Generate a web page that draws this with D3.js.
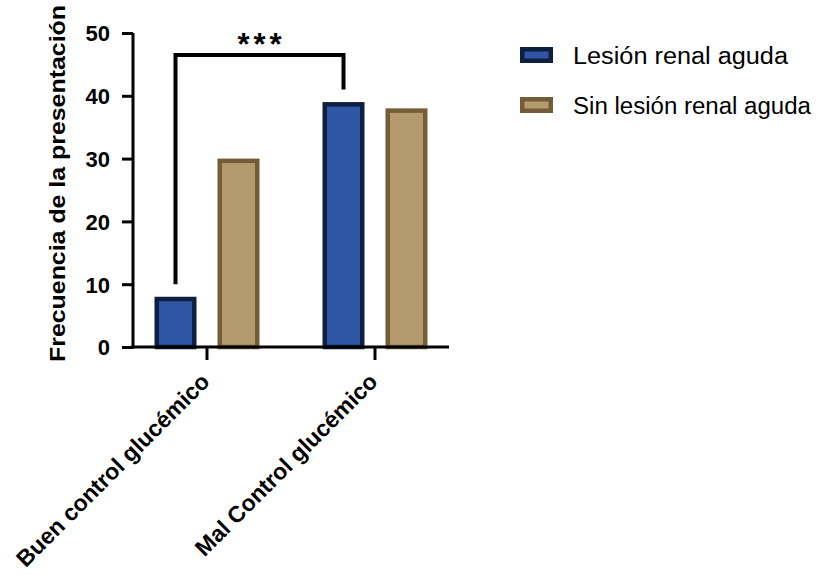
<!DOCTYPE html>
<html>
<head>
<meta charset="utf-8">
<script src="https://cdn.jsdelivr.net/npm/d3@7"></script>
<style>
  html, body { margin: 0; padding: 0; background: #fff; }
  svg { display: block; font-family: "Liberation Sans", Arial, sans-serif; }
</style>
</head>
<body>
<div id="chart"></div>
<script>
// Data
const categories = ['Buen control glucémico', 'Mal Control glucémico'];
const seriesNames = ['Lesión renal aguda', 'Sin lesión renal aguda'];
const lesionValues = [8, 39];
const sinLesionValues = [30, 38];
const yTicks = [0, 10, 20, 30, 40, 50];
const yLabel = 'Frecuencia de la presentación';
const significance = '***';
// bracket: from group 0 to group 1 of the first series, top level in data units
const bracketTop = 46.5;
const bracketGap = 2;

const width = 829, height = 575;
const plotLeft = 133, plotRight = 449, plotTop = 33, plotBottom = 347;
const fills = ['#2f56a4', '#b49b6f'];
const strokes = ['#0e1f40', '#745c36'];
const sw = 4.5;

const svg = d3.select('#chart').append('svg')
  .attr('width', width)
  .attr('height', height);

const y = d3.scaleLinear().domain([0, 50]).range([plotBottom, plotTop]);
const x = d3.scaleBand().domain(categories).range([plotLeft - 10, plotRight + 10]);
const xSub = d3.scaleBand().domain(seriesNames).range([-52.5, 52.5]).paddingInner(1 / 3);

const rows = categories.map((c, i) => ({
  cat: c,
  vals: [
    { s: seriesNames[0], v: lesionValues[i], k: 0 },
    { s: seriesNames[1], v: sinLesionValues[i], k: 1 }
  ]
}));

// Bars (border drawn inside the bar)
const groups = svg.append('g').selectAll('g')
  .data(rows)
  .join('g')
  .attr('transform', d => `translate(${x(d.cat) + x.bandwidth() / 2},0)`);

groups.selectAll('rect')
  .data(d => d.vals)
  .join('rect')
  .attr('x', d => xSub(d.s) + sw / 2)
  .attr('y', d => y(d.v) + sw / 2)
  .attr('width', xSub.bandwidth() - sw)
  .attr('height', d => y(0) - y(d.v) - sw / 2)
  .attr('fill', d => fills[d.k])
  .attr('stroke', d => strokes[d.k])
  .attr('stroke-width', sw);

// Y axis
const yAxis = svg.append('g')
  .attr('transform', `translate(${plotLeft},0)`)
  .call(d3.axisLeft(y).tickValues(yTicks).tickSize(11).tickSizeOuter(0).tickPadding(12));
yAxis.select('.domain').attr('stroke', '#000').attr('stroke-width', 3)
  .attr('d', `M0,${plotTop}V${plotBottom + 1.5}`);
yAxis.selectAll('.tick line').attr('stroke', '#000').attr('stroke-width', 3);
yAxis.selectAll('.tick text')
  .attr('font-size', 22)
  .attr('font-weight', 'bold')
  .attr('fill', '#000')
  .attr('dy', '0.36em');

// X axis
const xAxis = svg.append('g')
  .attr('transform', `translate(0,${plotBottom})`)
  .call(d3.axisBottom(x).tickSize(13).tickSizeOuter(0));
xAxis.select('.domain').attr('stroke', '#000').attr('stroke-width', 3)
  .attr('d', `M${plotLeft - 1.5},0H${plotRight}`);
xAxis.selectAll('.tick line').attr('stroke', '#000').attr('stroke-width', 3);
xAxis.selectAll('.tick text')
  .attr('font-size', 23)
  .attr('font-weight', 'bold')
  .attr('fill', '#000')
  .attr('text-anchor', 'end')
  .attr('x', 0).attr('y', 0).attr('dy', 0)
  .attr('transform', 'translate(4,36) rotate(-45)');

// Y axis title
svg.append('text')
  .attr('transform', `translate(65,${(5 + 362) / 2}) rotate(-90)`)
  .attr('text-anchor', 'middle')
  .attr('font-size', 22)
  .attr('font-weight', 'bold')
  .attr('textLength', 357)
  .attr('lengthAdjust', 'spacingAndGlyphs')
  .text(yLabel);

// Significance bracket
const bx0 = x(categories[0]) + x.bandwidth() / 2 + xSub(seriesNames[0]) + xSub.bandwidth() / 2;
const bx1 = x(categories[1]) + x.bandwidth() / 2 + xSub(seriesNames[0]) + xSub.bandwidth() / 2;
svg.append('path')
  .attr('d', `M${bx0},${y(lesionValues[0] + bracketGap)}V${y(bracketTop)}H${bx1}V${y(lesionValues[1] + bracketGap)}`)
  .attr('fill', 'none')
  .attr('stroke', '#000')
  .attr('stroke-width', 4);
svg.append('text')
  .attr('x', (bx0 + bx1) / 2 + 2)
  .attr('y', 55)
  .attr('text-anchor', 'middle')
  .attr('font-size', 31)
  .attr('font-weight', 'bold')
  .attr('letter-spacing', 4)
  .text(significance);

// Legend
const legend = svg.append('g').attr('transform', 'translate(520,47)');
const items = legend.selectAll('g')
  .data(seriesNames)
  .join('g')
  .attr('transform', (d, i) => `translate(0,${i * 50})`);
items.append('rect')
  .attr('x', sw / 2).attr('y', sw / 2)
  .attr('width', 33 - sw).attr('height', 16 - sw)
  .attr('fill', (d, i) => fills[i])
  .attr('stroke', (d, i) => strokes[i])
  .attr('stroke-width', sw);
items.append('text')
  .attr('x', 53)
  .attr('y', 17)
  .attr('font-size', 23)
  .attr('fill', '#000')
  .attr('textLength', (d, i) => i === 0 ? 215 : 238)
  .attr('lengthAdjust', 'spacingAndGlyphs')
  .text(d => d);
</script>
</body>
</html>
